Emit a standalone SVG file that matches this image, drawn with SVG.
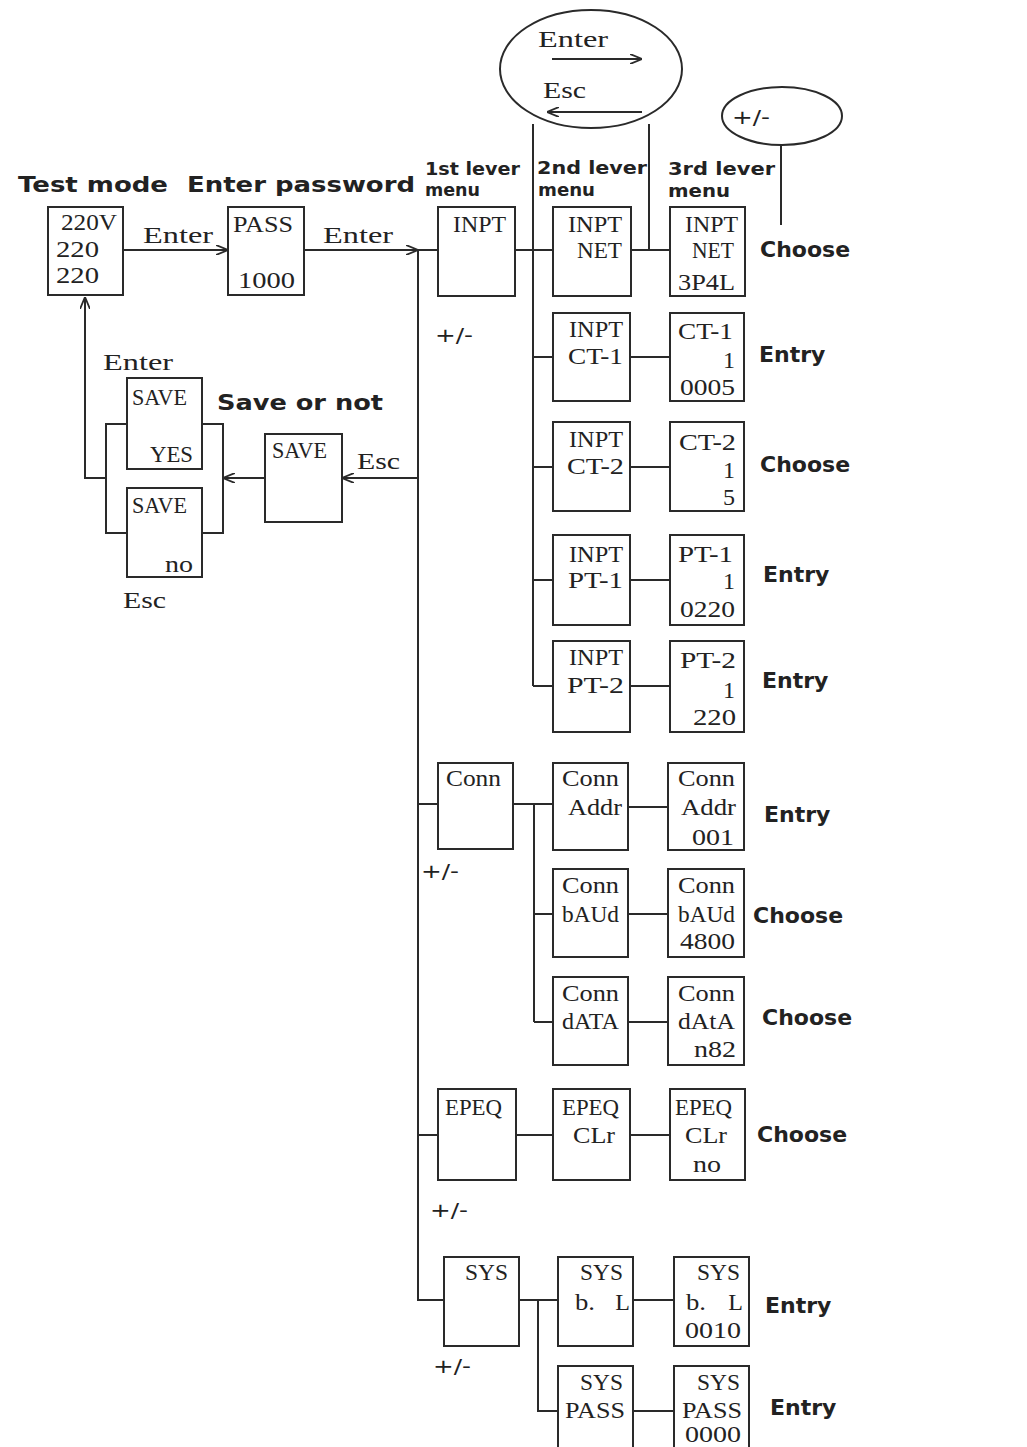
<svg xmlns="http://www.w3.org/2000/svg" width="1027" height="1447" viewBox="0 0 1027 1447">
<style>
.b{fill:#fff;stroke:#2a2a2a;stroke-width:2}
.c{fill:none;stroke:#2a2a2a;stroke-width:2}
.m{font-family:"Liberation Serif",serif;font-size:24px;fill:#222}
.h{font-family:"DejaVu Sans",sans-serif;font-weight:bold;font-size:22px;fill:#222}
.s{font-family:"DejaVu Sans",sans-serif;font-weight:bold;font-size:18px;fill:#222}
.p{font-family:"DejaVu Sans",sans-serif;font-size:20px;fill:#222}
.e{text-anchor:end}
</style>
<defs>
<marker id="arr" viewBox="0 0 12 10" refX="12" refY="5" markerWidth="12" markerHeight="10" markerUnits="userSpaceOnUse" orient="auto"><path d="M0,0 L12,5 L0,10" fill="none" stroke="#2a2a2a" stroke-width="1.8"/></marker>
</defs>
<rect width="1027" height="1447" fill="#fff"/>

<g id="connectors">
<path class="c" d="M123,250 H228" marker-end="url(#arr)"/>
<path class="c" d="M304,250 H418" marker-end="url(#arr)"/>
<path class="c" d="M418,250 H438"/>
<path class="c" d="M418,250 V1300 H444"/>
<path class="c" d="M418,804 H438"/>
<path class="c" d="M418,1135 H438"/>
<path class="c" d="M418,478 H342" marker-end="url(#arr)"/>
<path class="c" d="M265,478 H223" marker-end="url(#arr)"/>
<path class="c" d="M127,424 H106 V533 H127"/>
<path class="c" d="M202,424 H223 V533 H202"/>
<path class="c" d="M106,478 H85 V297" marker-end="url(#arr)"/>
<path class="c" d="M515,250 H553"/>
<path class="c" d="M631,250 H670"/>
<path class="c" d="M533,124 V686"/>
<path class="c" d="M533,357 H553 M533,467 H553 M533,580 H553 M533,686 H553"/>
<path class="c" d="M630,357 H670 M630,467 H670 M630,580 H670 M630,686 H670"/>
<path class="c" d="M649,124 V250"/>
<path class="c" d="M781,145 V225"/>
<path class="c" d="M552,59 H642" marker-end="url(#arr)"/>
<path class="c" d="M642,112 H547" marker-end="url(#arr)"/>
<path class="c" d="M513,804 H553 M534,804 V1022 M534,914 H553 M534,1022 H553"/>
<path class="c" d="M628,807 H668 M628,914 H668 M628,1022 H668"/>
<path class="c" d="M516,1135 H553 M630,1135 H670"/>
<path class="c" d="M519,1300 H558 M538,1300 V1411 H558 M633,1300 H674 M633,1411 H674"/>
</g>

<g id="labels">
<text class="h" x="18" y="192" textLength="150" lengthAdjust="spacingAndGlyphs">Test mode</text>
<text class="h" x="187" y="192" textLength="228" lengthAdjust="spacingAndGlyphs">Enter password</text>
<text class="s" x="425" y="175" textLength="95" lengthAdjust="spacingAndGlyphs">1st lever</text>
<text class="s" x="425" y="196" textLength="55" lengthAdjust="spacingAndGlyphs">menu</text>
<text class="s" x="537" y="174" textLength="110" lengthAdjust="spacingAndGlyphs">2nd lever</text>
<text class="s" x="538" y="196" textLength="57" lengthAdjust="spacingAndGlyphs">menu</text>
<text class="s" x="668" y="175" textLength="107" lengthAdjust="spacingAndGlyphs">3rd lever</text>
<text class="s" x="668" y="197" textLength="62" lengthAdjust="spacingAndGlyphs">menu</text>
<text class="m" x="143" y="243" textLength="70" lengthAdjust="spacingAndGlyphs">Enter</text>
<text class="m" x="323" y="243" textLength="70" lengthAdjust="spacingAndGlyphs">Enter</text>
<text class="m" x="103" y="370" textLength="70" lengthAdjust="spacingAndGlyphs">Enter</text>
<text class="m" x="123" y="608" textLength="43" lengthAdjust="spacingAndGlyphs">Esc</text>
<text class="m" x="357" y="469" textLength="43" lengthAdjust="spacingAndGlyphs">Esc</text>
<text class="h" x="217" y="410" textLength="166" lengthAdjust="spacingAndGlyphs">Save or not</text>
<text class="h" x="760" y="257">Choose</text>
<text class="h" x="759" y="362">Entry</text>
<text class="h" x="760" y="472">Choose</text>
<text class="h" x="763" y="582">Entry</text>
<text class="h" x="762" y="688">Entry</text>
<text class="h" x="764" y="822">Entry</text>
<text class="h" x="753" y="923">Choose</text>
<text class="h" x="762" y="1025">Choose</text>
<text class="h" x="757" y="1142">Choose</text>
<text class="h" x="765" y="1313">Entry</text>
<text class="h" x="770" y="1415">Entry</text>
<text class="p" x="435" y="342" textLength="38" lengthAdjust="spacingAndGlyphs">+/-</text>
<text class="p" x="421" y="878" textLength="38" lengthAdjust="spacingAndGlyphs">+/-</text>
<text class="p" x="430" y="1217" textLength="38" lengthAdjust="spacingAndGlyphs">+/-</text>
<text class="p" x="433" y="1373" textLength="38" lengthAdjust="spacingAndGlyphs">+/-</text>
</g>

<g id="keys-enter-esc">
<ellipse class="c" cx="591" cy="69" rx="91" ry="59"/>
<text class="m" x="538" y="47" textLength="70" lengthAdjust="spacingAndGlyphs">Enter</text>
<text class="m" x="543" y="98" textLength="43" lengthAdjust="spacingAndGlyphs">Esc</text>
</g>
<g id="keys-plusminus">
<ellipse class="c" cx="782" cy="116" rx="60" ry="29"/>
<text class="p" x="732" y="124" textLength="38" lengthAdjust="spacingAndGlyphs">+/-</text>
</g>

<g id="test-mode">
<rect class="b" x="48" y="207" width="75" height="88"/>
<text class="m" x="61" y="230" textLength="56" lengthAdjust="spacingAndGlyphs">220V</text>
<text class="m" x="56" y="257" textLength="43" lengthAdjust="spacingAndGlyphs">220</text>
<text class="m" x="56" y="283" textLength="43" lengthAdjust="spacingAndGlyphs">220</text>
</g>
<g id="pass">
<rect class="b" x="228" y="207" width="76" height="88"/>
<text class="m" x="233" y="232" textLength="60" lengthAdjust="spacingAndGlyphs">PASS</text>
<text class="m" x="238" y="288" textLength="57" lengthAdjust="spacingAndGlyphs">1000</text>
</g>
<g id="save-yes">
<rect class="b" x="127" y="378" width="75" height="91"/>
<text class="m" x="132" y="405" textLength="55" lengthAdjust="spacingAndGlyphs">SAVE</text>
<text class="m e" x="193" y="462" textLength="43" lengthAdjust="spacingAndGlyphs">YES</text>
</g>
<g id="save-no">
<rect class="b" x="127" y="488" width="75" height="89"/>
<text class="m" x="132" y="513" textLength="55" lengthAdjust="spacingAndGlyphs">SAVE</text>
<text class="m e" x="193" y="572" textLength="28" lengthAdjust="spacingAndGlyphs">no</text>
</g>
<g id="save">
<rect class="b" x="265" y="434" width="77" height="88"/>
<text class="m" x="272" y="458" textLength="55" lengthAdjust="spacingAndGlyphs">SAVE</text>
</g>

<g id="inpt">
<rect class="b" x="438" y="207" width="77" height="89"/>
<text class="m" x="453" y="232" textLength="53" lengthAdjust="spacingAndGlyphs">INPT</text>
</g>
<g id="inpt-net">
<rect class="b" x="553" y="207" width="78" height="89"/>
<text class="m" x="568" y="232" textLength="54" lengthAdjust="spacingAndGlyphs">INPT</text>
<text class="m e" x="622" y="258" textLength="45" lengthAdjust="spacingAndGlyphs">NET</text>
</g>
<g id="inpt-net-3p4l">
<rect class="b" x="670" y="207" width="75" height="89"/>
<text class="m" x="685" y="232" textLength="53" lengthAdjust="spacingAndGlyphs">INPT</text>
<text class="m e" x="734" y="258" textLength="42" lengthAdjust="spacingAndGlyphs">NET</text>
<text class="m" x="678" y="290" textLength="57" lengthAdjust="spacingAndGlyphs">3P4L</text>
</g>

<g id="inpt-ct1">
<rect class="b" x="553" y="313" width="77" height="88"/>
<text class="m e" x="623" y="337" textLength="54" lengthAdjust="spacingAndGlyphs">INPT</text>
<text class="m e" x="623" y="364" textLength="55" lengthAdjust="spacingAndGlyphs">CT-1</text>
</g>
<g id="ct1-value">
<rect class="b" x="670" y="313" width="74" height="88"/>
<text class="m" x="678" y="339" textLength="55" lengthAdjust="spacingAndGlyphs">CT-1</text>
<text class="m e" x="735" y="368">1</text>
<text class="m" x="680" y="395" textLength="55" lengthAdjust="spacingAndGlyphs">0005</text>
</g>
<g id="inpt-ct2">
<rect class="b" x="553" y="422" width="77" height="89"/>
<text class="m e" x="623" y="447" textLength="54" lengthAdjust="spacingAndGlyphs">INPT</text>
<text class="m e" x="624" y="474" textLength="57" lengthAdjust="spacingAndGlyphs">CT-2</text>
</g>
<g id="ct2-value">
<rect class="b" x="670" y="422" width="74" height="89"/>
<text class="m" x="679" y="450" textLength="57" lengthAdjust="spacingAndGlyphs">CT-2</text>
<text class="m e" x="735" y="478">1</text>
<text class="m e" x="735" y="505">5</text>
</g>
<g id="inpt-pt1">
<rect class="b" x="553" y="535" width="77" height="90"/>
<text class="m e" x="623" y="562" textLength="54" lengthAdjust="spacingAndGlyphs">INPT</text>
<text class="m e" x="623" y="588" textLength="55" lengthAdjust="spacingAndGlyphs">PT-1</text>
</g>
<g id="pt1-value">
<rect class="b" x="670" y="535" width="74" height="90"/>
<text class="m" x="678" y="562" textLength="55" lengthAdjust="spacingAndGlyphs">PT-1</text>
<text class="m e" x="735" y="589">1</text>
<text class="m" x="680" y="617" textLength="55" lengthAdjust="spacingAndGlyphs">0220</text>
</g>
<g id="inpt-pt2">
<rect class="b" x="553" y="641" width="77" height="91"/>
<text class="m e" x="623" y="665" textLength="54" lengthAdjust="spacingAndGlyphs">INPT</text>
<text class="m e" x="624" y="693" textLength="57" lengthAdjust="spacingAndGlyphs">PT-2</text>
</g>
<g id="pt2-value">
<rect class="b" x="670" y="641" width="74" height="91"/>
<text class="m" x="680" y="668" textLength="56" lengthAdjust="spacingAndGlyphs">PT-2</text>
<text class="m e" x="735" y="698">1</text>
<text class="m e" x="736" y="725" textLength="43" lengthAdjust="spacingAndGlyphs">220</text>
</g>

<g id="conn">
<rect class="b" x="438" y="763" width="75" height="86"/>
<text class="m" x="446" y="786" textLength="55" lengthAdjust="spacingAndGlyphs">Conn</text>
</g>
<g id="conn-addr">
<rect class="b" x="553" y="763" width="75" height="87"/>
<text class="m" x="562" y="786" textLength="57" lengthAdjust="spacingAndGlyphs">Conn</text>
<text class="m e" x="622" y="815" textLength="54" lengthAdjust="spacingAndGlyphs">Addr</text>
</g>
<g id="conn-addr-value">
<rect class="b" x="668" y="763" width="76" height="87"/>
<text class="m" x="678" y="786" textLength="57" lengthAdjust="spacingAndGlyphs">Conn</text>
<text class="m e" x="736" y="815" textLength="55" lengthAdjust="spacingAndGlyphs">Addr</text>
<text class="m" x="692" y="845" textLength="42" lengthAdjust="spacingAndGlyphs">001</text>
</g>
<g id="conn-baud">
<rect class="b" x="553" y="869" width="75" height="88"/>
<text class="m" x="562" y="893" textLength="57" lengthAdjust="spacingAndGlyphs">Conn</text>
<text class="m" x="562" y="922" textLength="57" lengthAdjust="spacingAndGlyphs">bAUd</text>
</g>
<g id="conn-baud-value">
<rect class="b" x="668" y="869" width="76" height="88"/>
<text class="m" x="678" y="893" textLength="57" lengthAdjust="spacingAndGlyphs">Conn</text>
<text class="m" x="678" y="922" textLength="57" lengthAdjust="spacingAndGlyphs">bAUd</text>
<text class="m" x="680" y="949" textLength="55" lengthAdjust="spacingAndGlyphs">4800</text>
</g>
<g id="conn-data">
<rect class="b" x="553" y="977" width="75" height="88"/>
<text class="m" x="562" y="1001" textLength="57" lengthAdjust="spacingAndGlyphs">Conn</text>
<text class="m" x="562" y="1029" textLength="57" lengthAdjust="spacingAndGlyphs">dATA</text>
</g>
<g id="conn-data-value">
<rect class="b" x="668" y="977" width="76" height="88"/>
<text class="m" x="678" y="1001" textLength="57" lengthAdjust="spacingAndGlyphs">Conn</text>
<text class="m" x="678" y="1029" textLength="57" lengthAdjust="spacingAndGlyphs">dAtA</text>
<text class="m e" x="736" y="1057" textLength="42" lengthAdjust="spacingAndGlyphs">n82</text>
</g>

<g id="epeq">
<rect class="b" x="438" y="1089" width="78" height="91"/>
<text class="m" x="445" y="1115" textLength="57" lengthAdjust="spacingAndGlyphs">EPEQ</text>
</g>
<g id="epeq-clr">
<rect class="b" x="553" y="1089" width="77" height="91"/>
<text class="m" x="562" y="1115" textLength="57" lengthAdjust="spacingAndGlyphs">EPEQ</text>
<text class="m" x="573" y="1143" textLength="42" lengthAdjust="spacingAndGlyphs">CLr</text>
</g>
<g id="epeq-clr-value">
<rect class="b" x="670" y="1089" width="75" height="91"/>
<text class="m" x="675" y="1115" textLength="57" lengthAdjust="spacingAndGlyphs">EPEQ</text>
<text class="m" x="685" y="1143" textLength="42" lengthAdjust="spacingAndGlyphs">CLr</text>
<text class="m" x="693" y="1172" textLength="28" lengthAdjust="spacingAndGlyphs">no</text>
</g>

<g id="sys">
<rect class="b" x="444" y="1257" width="75" height="89"/>
<text class="m" x="465" y="1280" textLength="43" lengthAdjust="spacingAndGlyphs">SYS</text>
</g>
<g id="sys-bl">
<rect class="b" x="558" y="1257" width="75" height="89"/>
<text class="m e" x="623" y="1280" textLength="43" lengthAdjust="spacingAndGlyphs">SYS</text>
<text class="m" x="575" y="1310" textLength="20" lengthAdjust="spacingAndGlyphs">b.</text>
<text class="m e" x="630" y="1310">L</text>
</g>
<g id="sys-bl-value">
<rect class="b" x="674" y="1257" width="75" height="89"/>
<text class="m e" x="740" y="1280" textLength="43" lengthAdjust="spacingAndGlyphs">SYS</text>
<text class="m" x="686" y="1310" textLength="20" lengthAdjust="spacingAndGlyphs">b.</text>
<text class="m e" x="743" y="1310">L</text>
<text class="m" x="685" y="1338" textLength="56" lengthAdjust="spacingAndGlyphs">0010</text>
</g>
<g id="sys-pass">
<rect class="b" x="558" y="1366" width="75" height="100"/>
<text class="m e" x="623" y="1390" textLength="43" lengthAdjust="spacingAndGlyphs">SYS</text>
<text class="m" x="565" y="1418" textLength="60" lengthAdjust="spacingAndGlyphs">PASS</text>
</g>
<g id="sys-pass-value">
<rect class="b" x="674" y="1366" width="75" height="100"/>
<text class="m e" x="740" y="1390" textLength="43" lengthAdjust="spacingAndGlyphs">SYS</text>
<text class="m" x="682" y="1418" textLength="60" lengthAdjust="spacingAndGlyphs">PASS</text>
<text class="m" x="685" y="1442" textLength="56" lengthAdjust="spacingAndGlyphs">0000</text>
</g>
</svg>
